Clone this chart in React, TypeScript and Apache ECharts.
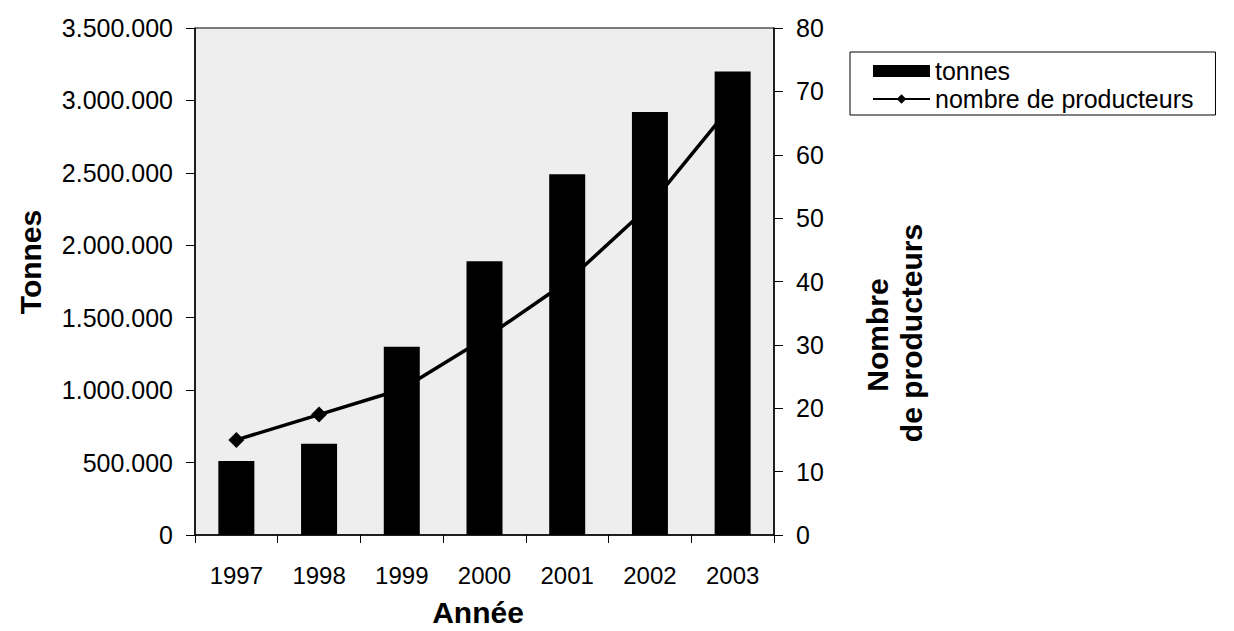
import React, { useEffect, useRef } from "react";
import * as echarts from "echarts";

const years = ["1997", "1998", "1999", "2000", "2001", "2002", "2003"];
const tonnes = [510000, 630000, 1300000, 1890000, 2490000, 2920000, 3200000];
const producteurs = [15, 19, 23, 31, 40, 52, 68];

const FONT = "'Liberation Sans', Arial, sans-serif";

const fmtDots = (v: number) =>
  String(Math.round(v)).replace(/\B(?=(\d{3})+(?!\d))/g, ".");

export default function App() {
  const ref = useRef<HTMLDivElement>(null);

  useEffect(() => {
    if (!ref.current) return;
    const chart = echarts.init(ref.current, undefined, { renderer: "svg" });
    chart.setOption({
      animation: false,
      backgroundColor: "#ffffff",
      textStyle: { fontFamily: FONT },
      grid: {
        left: 195,
        right: 1234 - 774,
        top: 28,
        bottom: 631 - 535,
        show: true,
        backgroundColor: "#eeeeee",
        borderColor: "#000",
        borderWidth: 1,
      },
      legend: {
        orient: "vertical",
        left: 850,
        top: 52,
        padding: [5, 22, 2, 22],
        itemGap: 0,
        itemWidth: 57,
        itemHeight: 12,
        borderColor: "#000",
        borderWidth: 1,
        textStyle: {
          fontFamily: FONT,
          fontSize: 25,
          lineHeight: 28,
          color: "#000",
        },
        data: [
          { name: "tonnes", icon: "rect" },
          { name: "nombre de producteurs" },
        ],
      },
      xAxis: {
        type: "category",
        data: years,
        boundaryGap: true,
        axisLine: { lineStyle: { color: "#000", width: 1.5 } },
        axisTick: { show: true, length: 8, lineStyle: { color: "#000" } },
        axisLabel: {
          fontFamily: FONT,
          fontSize: 24,
          color: "#000",
          margin: 28,
        },
      },
      yAxis: [
        {
          type: "value",
          min: 0,
          max: 3500000,
          interval: 500000,
          position: "left",
          splitLine: { show: false },
          axisLine: { show: true, lineStyle: { color: "#000", width: 1.5 } },
          axisTick: { show: true, length: 9, lineStyle: { color: "#000" } },
          axisLabel: {
            fontFamily: FONT,
            fontSize: 25,
            color: "#000",
            margin: 22,
            formatter: (v: number) => fmtDots(v),
          },
        },
        {
          type: "value",
          min: 0,
          max: 80,
          interval: 10,
          position: "right",
          splitLine: { show: false },
          axisLine: { show: true, lineStyle: { color: "#000", width: 1.5 } },
          axisTick: { show: true, length: 9, lineStyle: { color: "#000" } },
          axisLabel: {
            fontFamily: FONT,
            fontSize: 25,
            color: "#000",
            margin: 22,
          },
        },
      ],
      series: [
        {
          name: "tonnes",
          type: "bar",
          yAxisIndex: 0,
          data: tonnes,
          barWidth: 36,
          itemStyle: { color: "#000000" },
        },
        {
          name: "nombre de producteurs",
          type: "line",
          yAxisIndex: 1,
          data: producteurs,
          symbol: "diamond",
          symbolSize: 16,
          lineStyle: { color: "#000", width: 3.5 },
          itemStyle: { color: "#000" },
          z: 3,
        },
      ],
      graphic: [
        {
          type: "text",
          x: 30,
          y: 262,
          rotation: Math.PI / 2,
          style: {
            text: "Tonnes",
            fontFamily: FONT,
            fontSize: 30,
            fontWeight: "bold",
            fill: "#000",
            textAlign: "center",
            textVerticalAlign: "middle",
          },
        },
        {
          type: "text",
          x: 478,
          y: 612,
          style: {
            text: "Année",
            fontFamily: FONT,
            fontSize: 30,
            fontWeight: "bold",
            fill: "#000",
            textAlign: "center",
            textVerticalAlign: "middle",
          },
        },
        {
          type: "text",
          x: 877,
          y: 335,
          rotation: Math.PI / 2,
          style: {
            text: "Nombre",
            fontFamily: FONT,
            fontSize: 30,
            fontWeight: "bold",
            fill: "#000",
            textAlign: "center",
            textVerticalAlign: "middle",
          },
        },
        {
          type: "text",
          x: 911,
          y: 333,
          rotation: Math.PI / 2,
          style: {
            text: "de producteurs",
            fontFamily: FONT,
            fontSize: 30,
            fontWeight: "bold",
            fill: "#000",
            textAlign: "center",
            textVerticalAlign: "middle",
          },
        },
      ],
    });
    return () => chart.dispose();
  }, []);

  return (
    <div
      ref={ref}
      style={{ position: "fixed", left: 0, top: 0, width: 1234, height: 631 }}
    />
  );
}
